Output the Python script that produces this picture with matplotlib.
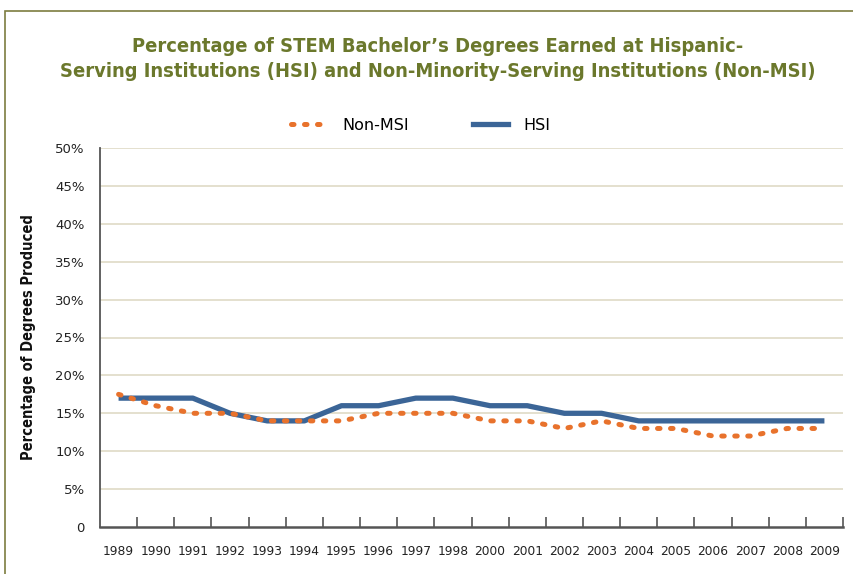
import matplotlib
matplotlib.use("Agg")
import matplotlib.pyplot as plt
from matplotlib.patches import Rectangle
from matplotlib.lines import Line2D

years = ["1989", "1990", "1991", "1992", "1993", "1994", "1995", "1996", "1997", "1998",
         "2000", "2001", "2002", "2003", "2004", "2005", "2006", "2007", "2008", "2009"]
non_msi = [17.5, 16, 15, 15, 14, 14, 14, 15, 15, 15, 14, 14, 13, 14, 13, 13, 12, 12, 13, 13]
hsi = [17, 17, 17, 15, 14, 14, 16, 16, 17, 17, 16, 16, 15, 15, 14, 14, 14, 14, 14, 14]
y_ticks = [0, 5, 10, 15, 20, 25, 30, 35, 40, 45, 50]
y_labels = ["0", "5%", "10%", "15%", "20%", "25%", "30%", "35%", "40%", "45%", "50%"]

title = ("Percentage of STEM Bachelor\u2019s Degrees Earned at Hispanic-\n"
         "Serving Institutions (HSI) and Non-Minority-Serving Institutions (Non-MSI)")

W, H = 854, 574
fig = plt.figure(figsize=(W / 100, H / 100), dpi=100)
fig.patch.set_facecolor("white")

# outer frame
fig.add_artist(Rectangle((5 / W, -0.1), 1.2, 1 - 11 / H + 0.1, transform=fig.transFigure,
                         fill=False, edgecolor="#7d7d40", linewidth=1.2))

ax = fig.add_axes([100 / W, 1 - 527 / H, 743 / W, (527 - 148) / H])
orange = "#E8722C"
blue = "#3B6597"
grid_c = "#E4E0CE"
axis_c = "#555555"

x = [i + 0.5 for i in range(len(years))]
ax.plot(x, hsi, color=blue, linewidth=3.8, solid_capstyle="butt", solid_joinstyle="round", zorder=3)
ax.plot(x, non_msi, color=orange, linewidth=3.6, linestyle=(0, (0.5, 2.1)),
        dash_capstyle="round", zorder=4)

ax.set_xlim(0, len(years))
ax.set_ylim(0, 50)
ax.set_yticks(y_ticks)
ax.set_yticklabels(y_labels)
ax.tick_params(axis="y", length=0, pad=11, labelsize=9.5, labelcolor="#222222")
for yv in y_ticks[1:]:
    ax.axhline(yv, color=grid_c, linewidth=1.4, zorder=1)

ax.set_xticks(range(1, len(years) + 1))
ax.set_xticklabels([])
ax.set_xticks(x, minor=True)
ax.set_xticklabels(years, minor=True)
ax.tick_params(axis="x", which="major", direction="in", length=7, width=1.2, color=axis_c)
ax.tick_params(axis="x", which="minor", length=0, pad=13, labelsize=8.8, labelcolor="#222222")

for s in ["top", "right"]:
    ax.spines[s].set_visible(False)
ax.spines["left"].set_color(axis_c)
ax.spines["bottom"].set_color(axis_c)
ax.spines["left"].set_linewidth(1.3)
ax.spines["bottom"].set_linewidth(1.8)

ax.set_ylabel("Percentage of Degrees Produced", fontsize=10.5, fontweight="bold",
              fontstretch="condensed", color="#111111", labelpad=14)

fig.text(438 / W, 1 - 59 / H, title, ha="center", va="center", fontsize=14.4,
         fontweight="bold", fontstretch="condensed", color="#6B782C", linespacing=1.42,
         family=["DejaVu Sans"])

leg = [Line2D([0], [0], color=orange, linewidth=3.6, linestyle=(0, (0.5, 2.1)), dash_capstyle="round"),
       Line2D([0], [0], color=blue, linewidth=3.8)]
fig.legend(leg, ["Non-MSI", "HSI"], loc="center", bbox_to_anchor=(421 / W, 1 - 125 / H),
           ncol=2, frameon=False, fontsize=11.5, handlelength=2.2, columnspacing=4.0,
           handletextpad=1.0)

fig.savefig("out.png", dpi=100)
